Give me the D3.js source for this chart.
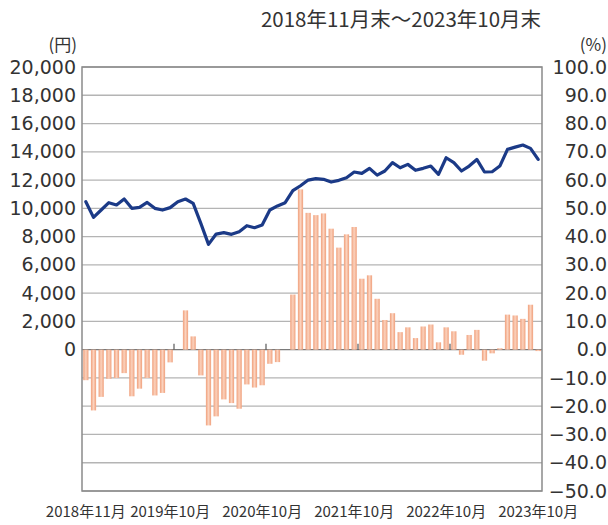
<!DOCTYPE html>
<html>
<head>
<meta charset="utf-8">
<script src="https://cdn.jsdelivr.net/npm/d3@7"></script>
<style>
  body { margin: 0; background: #fff; }
  text { fill: #333; }
</style>
</head>
<body>
<svg></svg>
<script>
// 基準価額と騰落率（2018年11月末～2023年10月末）

const width = 608;
const height = 525;
const margin = { top: 67, right: 66, bottom: 34, left: 82 };

// 月（カテゴリー）
const months = [
  "2018-11", "2018-12",
  "2019-01", "2019-02", "2019-03", "2019-04", "2019-05", "2019-06", "2019-07", "2019-08", "2019-09", "2019-10", "2019-11", "2019-12",
  "2020-01", "2020-02", "2020-03", "2020-04", "2020-05", "2020-06", "2020-07", "2020-08", "2020-09", "2020-10", "2020-11", "2020-12",
  "2021-01", "2021-02", "2021-03", "2021-04", "2021-05", "2021-06", "2021-07", "2021-08", "2021-09", "2021-10", "2021-11", "2021-12",
  "2022-01", "2022-02", "2022-03", "2022-04", "2022-05", "2022-06", "2022-07", "2022-08", "2022-09", "2022-10", "2022-11", "2022-12",
  "2023-01", "2023-02", "2023-03", "2023-04", "2023-05", "2023-06", "2023-07", "2023-08", "2023-09", "2023-10"
];

// 基準価額（円、左軸）
const price = [
  10470, 9360, 9880, 10400, 10240, 10660, 10000, 10070, 10420, 10000, 9880, 10050,
  10470, 10660, 10350, 8940, 7450, 8180, 8280, 8160, 8350, 8770, 8630, 8820,
  9880, 10170, 10400, 11250, 11600, 12000, 12100, 12050, 11860, 11980, 12170, 12570,
  12470, 12830, 12350, 12640, 13230, 12870, 13110, 12690, 12830, 12990, 12400, 13580,
  13230, 12640, 12990, 13460, 12570, 12590, 12990, 14170, 14330, 14480, 14240, 13460
];

// 騰落率（%、右軸）
const change = [
  -10.8, -21.5, -16.7, -10.3, -10.0, -8.3, -16.5, -13.8, -10.0, -16.2, -15.3, -4.5,
  0.0, 13.9, 4.7, -9.1, -26.8, -23.6, -17.6, -18.9, -20.9, -12.3, -13.4, -12.6,
  -5.0, -4.4, 0.0, 19.5, 56.7, 48.4, 47.6, 48.2, 42.8, 36.1, 40.8, 43.4,
  25.1, 26.3, 18.0, 10.5, 12.9, 6.2, 7.9, 4.1, 8.2, 8.9, 2.6, 7.9,
  6.5, -1.8, 5.2, 7.0, -3.9, -1.3, 0.5, 12.4, 12.1, 10.9, 15.9, -0.5
];

// 目盛り
const leftTicks = [0, 2000, 4000, 6000, 8000, 10000, 12000, 14000, 16000, 18000, 20000];
const rightTicks = [-50, -40, -30, -20, -10, 0, 10, 20, 30, 40, 50, 60, 70, 80, 90, 100];
const xLabelMonths = ["2018-11", "2019-10", "2020-10", "2021-10", "2022-10", "2023-10"];
const xLabels = ["2018年11月", "2019年10月", "2020年10月", "2021年10月", "2022年10月", "2023年10月"];
const yearStarts = ["2019-11", "2020-11", "2021-11", "2022-11"];

const svg = d3.select("svg").attr("width", width).attr("height", height);

const x = d3
  .scaleBand()
  .domain(months)
  .range([margin.left, width - margin.right])
  .paddingInner(0.32)
  .paddingOuter(0.16);

const yR = d3
  .scaleLinear()
  .domain([-50, 100])
  .range([height - margin.bottom, margin.top]);

// 左軸 0〜20,000 は右軸 0〜100 に対応
const yL = d3
  .scaleLinear()
  .domain([0, 20000])
  .range([yR(0), yR(100)]);

const step = x.step();
const x0 = x.range()[0];

// グラデーション（棒）
const grad = svg.append("defs").append("linearGradient")
  .attr("id", "barGrad")
  .attr("x1", "0%").attr("x2", "100%").attr("y1", "0%").attr("y2", "0%");
grad.append("stop").attr("offset", "0%").attr("stop-color", "#f0a07c");
grad.append("stop").attr("offset", "50%").attr("stop-color", "#fbd2bd");
grad.append("stop").attr("offset", "100%").attr("stop-color", "#f0a07c");

// グリッド
svg.append("g")
  .selectAll("line")
  .data(rightTicks)
  .enter()
  .append("line")
  .attr("x1", margin.left)
  .attr("x2", width - margin.right)
  .attr("y1", (d) => yR(d))
  .attr("y2", (d) => yR(d))
  .attr("stroke", (d) => (d === 0 ? "#7a7a7a" : "#b4b4b4"))
  .attr("stroke-width", 1.3);

// 棒（騰落率）
svg.append("g")
  .selectAll("rect")
  .data(months)
  .enter()
  .append("rect")
  .attr("x", (d) => x(d))
  .attr("width", x.bandwidth())
  .attr("y", (d, i) => yR(Math.max(0, change[i])))
  .attr("height", (d, i) => Math.abs(yR(change[i]) - yR(0)))
  .attr("fill", "url(#barGrad)");

// 年の区切り目盛り
svg.append("g")
  .selectAll("line")
  .data(yearStarts)
  .enter()
  .append("line")
  .attr("x1", (d) => x0 + months.indexOf(d) * step)
  .attr("x2", (d) => x0 + months.indexOf(d) * step)
  .attr("y1", yR(0) - 6)
  .attr("y2", yR(0))
  .attr("stroke", "#666")
  .attr("stroke-width", 1.3);

// 線（基準価額）
const line = d3.line()
  .x((d, i) => x(months[i]) + x.bandwidth() / 2)
  .y((d) => yL(d));

svg.append("path")
  .datum(price)
  .attr("d", line)
  .attr("fill", "none")
  .attr("stroke", "#1b3a87")
  .attr("stroke-width", 3.2)
  .attr("stroke-linejoin", "round")
  .attr("stroke-linecap", "round");

// 枠
svg.append("rect")
  .attr("x", margin.left)
  .attr("y", margin.top)
  .attr("width", width - margin.left - margin.right)
  .attr("height", height - margin.top - margin.bottom)
  .attr("fill", "none")
  .attr("stroke", "#8a8a8a")
  .attr("stroke-width", 1.5);

// 左軸
svg.append("g")
  .attr("transform", `translate(${margin.left},0)`)
  .call(d3.axisLeft(yL).tickValues(leftTicks).tickFormat(d3.format(",")).tickSize(0).tickPadding(6))
  .call((g) => g.select(".domain").remove())
  .selectAll("text")
  .style("font-family", "'DejaVu Sans', sans-serif")
  .style("font-size", "19px")
  .attr("fill", "#333");

// 右軸
svg.append("g")
  .attr("transform", `translate(${width - margin.right},0)`)
  .call(d3.axisRight(yR).tickValues(rightTicks).tickFormat(d3.format(".1f")).tickSize(0))
  .call((g) => g.select(".domain").remove())
  .selectAll("text")
  .attr("x", 65)
  .attr("text-anchor", "end")
  .style("font-family", "'DejaVu Sans', sans-serif")
  .style("font-size", "19px")
  .attr("fill", "#333");

// 横軸ラベル
svg.append("g")
  .attr("transform", `translate(0,${height - margin.bottom})`)
  .call(d3.axisBottom(x).tickValues(xLabelMonths).tickFormat((d) => xLabels[xLabelMonths.indexOf(d)]).tickSize(0).tickPadding(15))
  .call((g) => g.select(".domain").remove())
  .selectAll("text")
  .style("font-family", "'Noto Sans CJK JP', sans-serif")
  .style("font-size", "15px")
  .attr("fill", "#333");

// 単位・期間
svg.append("text")
  .attr("x", 77)
  .attr("y", 51)
  .attr("text-anchor", "end")
  .style("font-family", "'Noto Sans CJK JP', sans-serif")
  .style("font-size", "17px")
  .text("(円)");

svg.append("text")
  .attr("x", 607)
  .attr("y", 51)
  .attr("text-anchor", "end")
  .style("font-family", "'Noto Sans CJK JP', sans-serif")
  .style("font-size", "17px")
  .text("(%)");

svg.append("text")
  .attr("x", 401)
  .attr("y", 27)
  .attr("text-anchor", "middle")
  .style("font-family", "'Noto Sans CJK JP', sans-serif")
  .style("font-size", "20.5px")
  .text("2018年11月末～2023年10月末");
</script>
</body>
</html>
